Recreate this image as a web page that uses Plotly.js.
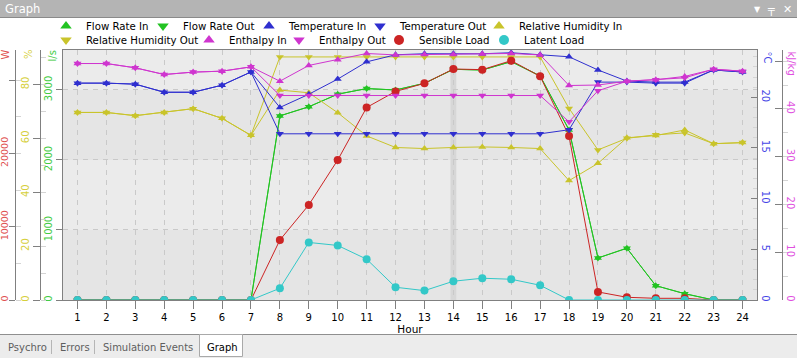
<!DOCTYPE html>
<html><head><meta charset="utf-8">
<script src="https://cdn.plot.ly/plotly-3.0.1.min.js"></script>
<style>html,body{margin:0;padding:0;overflow:hidden;background:#fff}#chart{width:797px;height:358px}</style>
</head><body><div id="chart"></div>
<script>
// ---------- data ----------
const hours = [1,2,3,4,5,6,7,8,9,10,11,12,13,14,15,16,17,18,19,20,21,22,23,24];
const flowRateIn     = [0,0,0,0,0,0,0,2630,2760,2940,3020,3000,3095,3295,3285,3405,3200,2430,600,740,205,90,0,0];
const flowRateOut    = [0,0,0,0,0,0,0,2630,2760,2940,3020,3000,3095,3295,3285,3405,3200,2430,600,740,205,90,0,0];
const temperatureIn  = [21.4,21.4,21.3,20.5,20.5,21.2,22.5,19.0,20.3,21.8,23.5,24.2,24.3,24.3,24.3,24.4,24.2,24.0,22.7,21.6,21.5,21.5,22.7,22.5];
const temperatureOut = [21.4,21.4,21.3,20.5,20.5,21.2,22.5,16.4,16.4,16.4,16.4,16.4,16.4,16.4,16.4,16.4,16.4,16.8,21.5,21.5,21.4,21.4,22.7,22.5];
const rhIn           = [69.6,69.6,68.4,69.6,71.0,67.4,61.1,77.9,76.9,69.5,60.9,56.6,56.2,56.6,56.8,56.6,56.2,44.3,50.7,60.2,61.0,63.1,58.0,58.4];
const rhOut          = [69.6,69.6,68.4,69.6,71.0,67.4,61.1,90.2,90.2,90.2,90.2,90.2,90.2,90.2,90.2,90.2,90.2,71.1,55.7,60.0,61.3,62.0,58.0,58.4];
const enthalpyIn     = [49.5,49.5,48.6,47.2,47.7,47.9,48.8,45.8,49.1,50.3,51.6,51.3,51.4,51.4,51.5,51.6,51.3,44.9,45.0,45.8,46.1,46.8,48.3,47.9];
const enthalpyOut    = [49.5,49.5,48.6,47.2,47.7,47.9,48.8,42.8,42.8,42.8,42.8,42.8,42.8,42.8,42.8,42.8,42.8,37.3,43.8,45.8,46.1,46.5,48.3,47.9];
const sensibleLoad   = [0,0,0,0,0,0,0,8180,12970,19090,26260,28450,29550,31510,31420,32650,30510,22370,1100,370,230,230,0,0];
const latentLoad     = [0,0,0,0,0,0,0,1600,7850,7440,5570,1740,1280,2560,2970,2830,2010,0,0,0,0,0,0,0];
const seriesNames = ['Flow Rate In','Flow Rate Out','Temperature In','Temperature Out','Relative Humidity In',
                     'Relative Humidity Out','Enthalpy In','Enthalpy Out','Sensible Load','Latent Load'];
const wattTickVals = [0,10000,20000,30000];
const wattTickText = ['0','10000','20000',''];
const enthTickVals = [0,10,20,30,40,50];
const enthTickText = ['0','10','20','30','40',''];
const unitLabels = ['W','%','l/s','°C','kJ/kg'];
const tabLabels = ['Psychro','Errors','Simulation Events','Graph'];

// ---------- styling ----------
const W = 797, H = 358;
const px = v => v / W, py = v => 1 - v / H;
const FONT = 'DejaVu Sans';
const GREEN = '#22c322', BLUE = '#2f2fcf', YEL = '#c9c42b', MAG = '#cf35cf', RED = '#cc2424', CYAN = '#33c8c8';
const C_W = '#e05050', C_PCT = '#d6cf3c', C_LS = '#44cc44', C_C = '#4646e6', C_KJ = '#e050e0';

const seriesDefs = [
  {y: flowRateIn,     ax: 'y',  color: GREEN, sym: 'triangle-up',   size: 7},
  {y: flowRateOut,    ax: 'y',  color: GREEN, sym: 'triangle-down', size: 7},
  {y: temperatureIn,  ax: 'y4', color: BLUE,  sym: 'triangle-up',   size: 7},
  {y: temperatureOut, ax: 'y4', color: BLUE,  sym: 'triangle-down', size: 7},
  {y: rhIn,           ax: 'y2', color: YEL,   sym: 'triangle-up',   size: 7},
  {y: rhOut,          ax: 'y2', color: YEL,   sym: 'triangle-down', size: 7},
  {y: enthalpyIn,     ax: 'y5', color: MAG,   sym: 'triangle-up',   size: 7},
  {y: enthalpyOut,    ax: 'y5', color: MAG,   sym: 'triangle-down', size: 7},
  {y: sensibleLoad,   ax: 'y3', color: RED,   sym: 'circle',        size: 8},
  {y: latentLoad,     ax: 'y3', color: CYAN,  sym: 'circle',        size: 8}
];
// legend placement: [text left px, row centre px]
const legendPos = [[83,26],[180,26],[286,26],[397,26],[516,26],[83,40],[226,40],[316,40],[416,40],[521,40]];

const traces = [];
seriesDefs.forEach((s, i) => {
  traces.push({type:'scatter', mode:'lines+markers', x: hours, y: s.y, yaxis: s.ax, name: seriesNames[i],
    showlegend:false, hoverinfo:'skip',
    line:{color: s.color, width: 1}, marker:{color: s.color, symbol: s.sym, size: s.size}});
});
seriesDefs.forEach((s, i) => {
  traces.push({type:'scatter', mode:'markers', x:[null], y:[null], yaxis: s.ax, name: seriesNames[i],
    legend: i === 0 ? 'legend' : 'legend' + (i + 1), showlegend:true, hoverinfo:'skip',
    marker:{color: s.color, symbol: s.sym, size: 10}});
});

const axisCommon = {showline:true, linecolor:'#808080', linewidth:1, zeroline:false, automargin:false,
  fixedrange:true, tickcolor:'#808080', tickwidth:1};
const yDomain = [py(300), py(50)];

const unitAnn = (t, x, y, ang, color) => ({text:t, xref:'paper', yref:'paper', x:px(x), y:py(y),
  xanchor:'center', yanchor:'middle', textangle:ang, showarrow:false, font:{family: FONT, size:10, color}});
const tabAnn = (t, x, color) => ({text:t, xref:'paper', yref:'paper', x:px(x), y:py(347),
  xanchor:'left', yanchor:'middle', showarrow:false, font:{family: FONT, size:10, color}});

const layout = {
  width: W, height: H, margin:{l:0, r:0, t:0, b:0},
  paper_bgcolor:'#ffffff', plot_bgcolor:'#e5e5e5',
  font:{family: FONT, size: 10, color:'#000'},
  xaxis: Object.assign({}, axisCommon, {domain:[px(63), px(757)], range:[0.5, 24.5], tickmode:'array', tickvals: hours,
    ticks:'outside', ticklen:8, mirror:true, showgrid:true, gridcolor:'#c9c9c9', griddash:'5px,5px',
    tickfont:{family: FONT, size:10, color:'#000'},
    title:{text:'Hour', font:{family: FONT, size:10.5, color:'#000'}, standoff:2}}),
  yaxis: Object.assign({}, axisCommon, {domain: yDomain, range:[0, 3571], dtick:1000, ticks:'outside', ticklen:6,
    showgrid:true, gridcolor:'#c9c9c9', griddash:'5px,5px', tickangle:-90,
    tickfont:{family: FONT, size:10, color: C_LS}}),
  yaxis2: Object.assign({}, axisCommon, {domain: yDomain, overlaying:'y', anchor:'free', position:px(40), side:'left',
    range:[0, 92.77], dtick:20, ticks:'outside', ticklen:7, showgrid:false, tickangle:-90,
    minor:{dtick:10, ticks:'inside', ticklen:5, tickcolor:'#d4d4d4'},
    tickfont:{family: FONT, size:10, color: C_PCT}}),
  yaxis3: Object.assign({}, axisCommon, {domain: yDomain, overlaying:'y', anchor:'free', position:px(15), side:'left',
    range:[0, 34100], tickmode:'array', tickvals: wattTickVals, ticktext: wattTickText, ticks:'outside', ticklen:6,
    ticklabelstandoff:-3, showgrid:false, tickangle:-90,
    minor:{dtick:5000, ticks:'inside', ticklen:5, tickcolor:'#d4d4d4'},
    tickfont:{family: FONT, size:9.5, color: C_W}}),
  yaxis4: Object.assign({}, axisCommon, {domain: yDomain, overlaying:'y', anchor:'x', side:'right',
    range:[0, 24.67], dtick:5, ticks:'inside', ticklen:6, showgrid:false, tickangle:90,
    minor:{dtick:1, ticks:'inside', ticklen:4, tickcolor:'#d4d4d4'},
    tickfont:{family: FONT, size:10, color: C_C}}),
  yaxis5: Object.assign({}, axisCommon, {domain: yDomain, overlaying:'y', anchor:'free', position:px(782), side:'right',
    range:[0, 52.33], tickmode:'array', tickvals: enthTickVals, ticktext: enthTickText, ticks:'inside', ticklen:7,
    showgrid:false, tickangle:90,
    minor:{dtick:5, ticks:'outside', ticklen:5, tickcolor:'#d4d4d4'},
    tickfont:{family: FONT, size:10, color: C_KJ}}),
  shapes: [
    // alternating bands
    {type:'rect', xref:'paper', yref:'y', x0:px(63), x1:px(757), y0:1000, y1:2000, fillcolor:'#ebebeb', line:{width:0}, layer:'below'},
    {type:'rect', xref:'paper', yref:'y', x0:px(63), x1:px(757), y0:3000, y1:3571, fillcolor:'#ebebeb', line:{width:0}, layer:'below'},
    // cursor column
    {type:'rect', xref:'x', yref:'paper', x0:13.9, x1:14.1, y0:yDomain[0], y1:yDomain[1], fillcolor:'#d7d7d7', line:{width:0}, layer:'below'},
    // title bar
    {type:'rect', xref:'paper', yref:'paper', x0:0, x1:1, y0:py(17), y1:1, fillcolor:'#b4b4b4', line:{width:0}},
    {type:'line', xref:'paper', yref:'paper', x0:0, x1:1, y0:py(17.5), y1:py(17.5), line:{color:'#8a8a8a', width:1}},
    // bottom tab strip
    {type:'rect', xref:'paper', yref:'paper', x0:0, x1:1, y0:0, y1:py(334.5), fillcolor:'#ececec', line:{width:0}},
    {type:'line', xref:'paper', yref:'paper', x0:0, x1:1, y0:py(334.5), y1:py(334.5), line:{color:'#8f8f8f', width:1}},
    {type:'rect', xref:'paper', yref:'paper', x0:px(199.5), x1:px(242.5), y0:py(356.5), y1:py(334.5), fillcolor:'#ffffff', line:{color:'#a9a9a9', width:1}},
    {type:'line', xref:'paper', yref:'paper', x0:px(51.5), x1:px(51.5), y0:py(354), y1:py(340), line:{color:'#b5b5b5', width:1}},
    {type:'line', xref:'paper', yref:'paper', x0:px(94.5), x1:px(94.5), y0:py(354), y1:py(340), line:{color:'#b5b5b5', width:1}}
  ],
  annotations: [
    {text:'Graph', xref:'paper', yref:'paper', x:px(3), y:py(9), xanchor:'left', yanchor:'middle', showarrow:false,
      font:{family: FONT, size:11.5, color:'#ffffff'}},
    {text:'▼', xref:'paper', yref:'paper', x:px(757), y:py(9), xanchor:'center', yanchor:'middle', showarrow:false, font:{family: FONT, size:8, color:'#ffffff'}},
    {text:'╤', xref:'paper', yref:'paper', x:px(771), y:py(9), xanchor:'center', yanchor:'middle', showarrow:false, font:{family: FONT, size:11, color:'#ffffff'}},
    {text:'✕', xref:'paper', yref:'paper', x:px(787), y:py(9), xanchor:'center', yanchor:'middle', showarrow:false, font:{family: FONT, size:11, color:'#ffffff'}},
    unitAnn(unitLabels[0], 4.5, 55, -90, C_W),
    unitAnn(unitLabels[1], 28, 54, -90, C_PCT),
    unitAnn(unitLabels[2], 51.5, 56, -90, C_LS),
    unitAnn(unitLabels[3], 766.5, 57, 90, C_C),
    unitAnn(unitLabels[4], 791.5, 63, 90, C_KJ),
    tabAnn(tabLabels[0], 6, '#5e5e5e'),
    tabAnn(tabLabels[1], 58, '#5e5e5e'),
    tabAnn(tabLabels[2], 101, '#5e5e5e'),
    tabAnn(tabLabels[3], 205, '#000000')
  ]
};
legendPos.forEach((p, i) => {
  const key = i === 0 ? 'legend' : 'legend' + (i + 1);
  layout[key] = {x: px(p[0] - 37), y: py(p[1]), xanchor:'left', yanchor:'middle', orientation:'v',
    bgcolor:'rgba(0,0,0,0)', borderwidth:0, font:{family: FONT, size:10.2, color:'#000'}, itemclick:false, itemdoubleclick:false};
});

Plotly.newPlot('chart', traces, layout, {displayModeBar:false, staticPlot:true});
</script></body></html>
